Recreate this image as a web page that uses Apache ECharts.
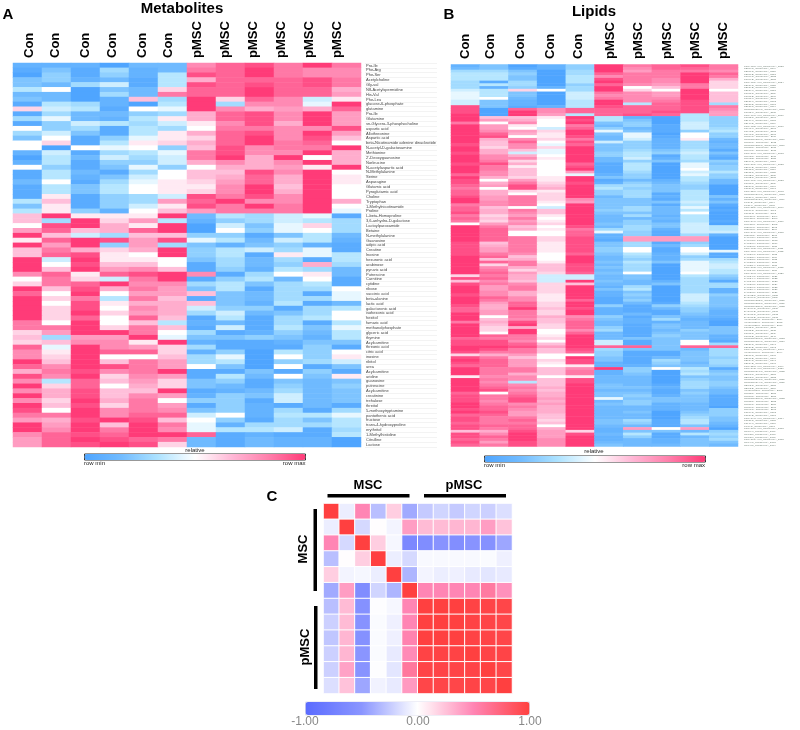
<!DOCTYPE html>
<html><head><meta charset="utf-8">
<style>html,body{margin:0;padding:0;background:#fff}#c{width:800px;height:730px}</style>
<script src="https://cdn.jsdelivr.net/npm/echarts@6/dist/echarts.min.js"></script>
</head><body><div id="c"></div>
<script>
const metaboliteSamples = ['Con','Con','Con','Con','Con','Con','pMSC','pMSC','pMSC','pMSC','pMSC','pMSC'];
const lipidSamples = ['Con','Con','Con','Con','Con','pMSC','pMSC','pMSC','pMSC','pMSC'];
const corrSamples = ['M1','M2','M3','M4','M5','M6','P1','P2','P3','P4','P5','P6'];
const metaboliteNames = ['Pro-Ile','Phe-Arg','Phe-Ser','Acetylcholine','Gly-val','N8-Acetylspermidine','His-Val','Phe-Leu','glucose-6-phosphate','glutamine','Pro-Ile','Glutamine','sn-Glycero-3-phosphocholine','aspartic acid','Allothreonine','Aspartic acid','beta-Nicotinamide adenine dinucleotide','N-acetyl-D-galactosamine','Methionine',"2'-Deoxyguanosine",'Norleucine','N-acetylaspartic acid','N-Methylalanine','Serine','Asparagine','Glutamic acid','Pyroglutamic acid','Choline','Tryptophan','1-Methylnicotinamide','Proline','L-beta-Homoproline','3,6-anhydro-D-galactose','Lactoylparoxamide','Betaine','N-methylalanine','Guanosine','adipic acid','Creatine','Inosine','hexuronic acid','arabinose','pyruvic acid','Putrescine','Carnitine','cytidine','ribose','succinic acid','beta-alanine','lactic acid','galacturonic acid','isohexonic acid','hexitol','fumaric acid','methanolphosphate','glyceric acid','thymine','Acylcarnitine','threonic acid','citric acid','inosine','ribitol','urea','Acylcarnitine','uridine','guanosine','putrescine','Acylcarnitine','creatinine','trehalose','threitol','5-methoxytryptamine','pantothenic acid','fructose','trans-4-hydroxyproline','erythritol','1-Methylhistidine','Citrulline','Lactose'];
const metaboliteValues = [
[-8,-8,-8,-10,-7,-7,6,8,9,7,10,7],[-9,-6,-9,-4,-8,-7,7,8,10,7,6,6],[-10,-5,-9,-5,-8,-3,9,8,10,7,6,6],[-6,-5,-8,-7,-9,-3,4,8,8,8,9,7],
[-6,-7,-4,-2,-9,-3,9,8,9,8,9,7],[-3,0,-10,-6,-7,2,8,8,10,8,8,4],[-7,-7,-10,-4,-7,7,8,8,10,8,8,5],[-6,-7,-10,-8,3,-4,10,2,8,6,-2,1],
[-9,-3,-4,-8,-10,-3,10,-4,6,6,-1,10],[2,-2,-3,-9,0,-1,10,6,4,5,4,8],[-9,-4,-7,-7,-5,-4,4,8,9,6,10,5],[-4,-1,-7,-8,-3,1,4,8,9,6,10,5],
[-9,-5,-2,-3,-4,-2,1,6,9,4,10,5],[0,-5,-4,-9,-3,-4,0,7,7,6,6,9],[-4,-2,-6,-9,-3,1,4,8,9,6,10,5],[-6,0,-9,-5,-1,1,2,8,10,6,9,3],
[0,2,-9,-3,1,2,4,8,10,7,8,0],[0,-10,0,-1,0,-5,3,9,6,7,7,10],[-8,-2,-9,-4,-3,-1,7,9,6,6,10,4],[-10,-3,-7,-2,-4,-2,7,10,4,10,0,4],
[-8,-3,-9,-5,-5,-2,4,6,4,6,10,4],[0,-5,-9,-6,-1,-5,0,4,4,5,1,10],[-9,-3,-7,-9,-4,0,3,3,9,6,10,0],[-9,-3,-8,-6,-2,0,3,4,8,4,10,1],
[-7,0,-9,-4,-1,1,2,5,8,4,10,1],[-9,-3,-6,-3,0,1,1,6,10,3,10,0],[-9,-3,-6,-3,0,1,2,6,10,4,10,0],[-9,1,-9,-5,-4,-2,9,7,9,6,10,0],
[-3,3,-9,-5,-4,5,8,10,6,6,10,4],[-6,1,-9,-5,-2,1,9,7,10,7,10,0],[-3,1,-5,-8,0,3,5,7,7,7,10,-1],[3,10,1,1,1,10,-7,-3,-4,-2,-1,-9],
[3,-4,10,2,5,-3,-8,-5,-4,-2,-3,-4],[0,9,10,4,1,10,-10,-2,-6,-1,2,-4],[5,8,3,4,8,10,-10,0,-5,-1,0,-4],[10,3,-2,-4,3,3,-5,-5,-9,-6,-3,-7],
[1,8,10,9,5,9,-1,-3,-7,-2,-3,-8],[10,5,10,-5,5,-4,-6,-8,-6,-5,-8,-9],[3,7,4,2,4,10,-5,-3,-2,-4,-1,-9],[3,8,9,1,0,10,-5,-3,-9,1,-1,-3],
[10,-2,10,1,1,0,-6,-4,-7,-4,-9,-3],[10,0,9,3,3,0,-9,-4,-7,-5,4,-4],[10,3,10,5,6,3,-9,-5,-8,-3,-4,-7],[6,8,1,8,9,10,6,-9,-4,0,1,-7],
[0,7,2,-2,7,10,-9,-5,-3,-7,0,-9],[2,7,8,10,6,6,-4,-3,-6,-4,-3,-9],[10,3,9,4,7,5,-6,-3,-9,-4,-4,0],[8,0,10,0,5,5,3,-6,-7,-4,-9,-1],
[10,2,7,-3,7,3,-9,-6,-7,-4,-4,-1],[10,0,9,1,4,4,3,-6,-8,-3,-9,-7],[10,2,9,0,6,4,-2,-5,-5,-9,-4,-3],[10,2,10,2,5,4,-4,-2,-7,-6,-4,0],
[10,2,8,0,8,3,-9,-3,-9,-4,-3,0],[7,0,10,0,3,-3,-8,-7,-9,-4,-9,-3],[7,7,10,2,7,3,-9,-2,-9,-3,-6,-1],[2,5,10,10,7,0,-4,-9,-8,-5,-7,-3],
[3,-4,5,5,10,-1,-6,-6,-5,-6,-8,-3],[2,3,6,6,1,10,-8,-9,-9,-8,-6,-6],[8,-1,10,6,5,2,-4,-9,-9,-9,-5,-9],[6,1,10,8,8,2,-8,-5,-10,-3,-5,0],
[6,2,10,0,0,3,-4,-1,-10,0,-5,1],[10,3,10,3,7,5,-4,-3,-10,-5,-4,-2],[8,6,10,9,7,5,0,-6,-10,0,-9,-6],[4,7,9,6,7,10,-9,-9,-6,-9,-5,-9],
[9,6,10,2,6,5,-9,-3,-7,0,-6,1],[6,-3,8,3,5,2,-6,-5,-9,-6,-7,-6],[10,2,8,0,4,2,-6,-7,-9,-5,-7,-5],[6,4,9,3,3,10,-9,-8,-7,-4,-7,-6],
[10,4,9,3,6,5,-8,-5,-6,-2,-7,-6],[6,2,10,4,7,0,-5,-5,-9,-2,-7,-6],[10,3,9,2,7,5,-9,-5,-8,-9,-7,-9],[9,0,10,6,7,6,-6,-5,-8,-4,-9,-4],
[7,7,10,6,8,8,-2,0,-8,-3,-3,-1],[5,4,9,10,9,3,0,-5,-9,-4,-6,-3],[10,5,10,3,10,7,-1,-8,-4,-4,-4,-3],[10,6,10,7,10,6,-1,-3,-3,-2,-9,-4],
[6,8,9,8,10,10,8,-9,-8,-9,-9,-3],[5,8,10,9,8,7,-7,-9,-7,-8,-8,-10],[5,8,9,10,9,2,-7,-9,-7,-8,-8,-10]];
const lipidValues = [
[-8,-6,-10,-8,-5,10,7,8,9,7],[-7,-6,-9,-8,-5,10,6,8,8,7],[-4,-4,-6,-10,-4,10,5,7,7,6],[-3,-3,-5,-10,-4,8,7,7,10,8],
[-3,-3,-6,-10,-3,6,7,7,10,7],[-3,-3,-6,-10,-3,9,7,6,10,4],[-4,-9,-4,-10,-3,10,7,6,10,2],[-4,-3,-4,-10,-5,8,6,5,7,2],
[-4,-8,-5,-8,-4,10,0,3,7,2],[-2,-3,2,0,-4,10,2,0,10,0],[-1,-3,-6,-10,-2,7,6,5,10,3],[-1,-3,-6,-10,-2,6,6,5,10,3],
[-1,0,-7,-10,-2,7,6,6,10,3],[-2,-6,-8,-10,-3,10,6,7,9,3],[-2,-6,-8,-10,-3,10,-3,8,9,-4],[9,-6,-9,-8,-3,9,8,8,9,7],
[9,-10,8,6,8,8,8,8,9,6],[9,-10,10,6,8,8,8,9,9,5],[10,-10,10,5,-3,8,9,8,-3,5],[10,3,3,1,10,-3,-8,-10,-3,-5],
[10,5,4,0,9,-3,-6,-10,-3,-5],[7,0,6,0,10,-6,-5,-10,-2,-5],[10,5,1,0,7,-7,-5,-9,-2,-5],[10,5,0,-2,8,-5,-7,-9,-2,-4],
[10,6,5,2,10,-1,-6,-9,-5,-3],[10,8,4,1,10,-6,-1,-10,0,-5],[10,9,0,1,9,-7,-1,-9,0,-5],[10,4,6,2,7,-7,-2,-8,1,-7],
[10,3,8,0,9,-2,-5,-8,-4,-8],[9,3,6,-1,8,-6,-5,-8,-4,-7],[10,2,6,2,10,-6,-5,-8,-4,-7],[10,4,3,-1,10,-6,-4,-6,-3,-9],
[9,4,-2,-1,10,-5,-3,-5,-2,-6],[10,6,4,0,10,-5,-3,-9,-3,-8],[10,6,6,1,10,-7,-2,-8,-3,-9],[10,7,2,0,10,-7,-5,-6,-4,-5],
[9,9,4,0,8,-9,-3,-10,-1,-6],[10,7,1,0,9,-9,-3,-10,-1,-5],[10,7,3,0,10,-9,-3,-10,0,-5],[10,6,3,0,5,-9,-4,-10,-2,-3],
[8,6,3,0,-1,-8,-5,-10,-1,-5],[10,4,2,1,10,-6,-5,-10,-3,-5],[9,0,5,1,10,-9,-7,-8,-3,-7],[9,4,7,2,9,-8,-5,-7,-4,-7],
[8,5,9,3,10,-4,-4,-6,-5,-10],[7,0,9,4,10,-3,-5,-6,-5,-10],[8,4,2,1,10,-5,-4,-6,-3,-10],[8,4,0,2,10,-5,-4,-9,-3,-10],
[9,5,7,2,10,-7,-4,-8,-3,-6],[10,5,7,2,6,-6,-6,-9,-3,-8],[10,6,7,1,5,-6,-6,-6,-2,-6],[7,6,7,0,10,-6,-6,-9,-3,-9],
[8,3,0,-2,10,-6,-4,-7,-1,-10],[8,4,7,3,10,-5,-4,-7,-3,-9],[9,4,6,3,10,-6,-6,-7,0,-10],[7,2,5,1,10,-7,-4,-8,-3,-10],
[8,3,7,0,10,-7,-7,-7,-3,-10],[7,2,5,1,10,-7,-5,-8,-3,-9],[0,5,6,2,10,-6,-5,-6,-2,-10],[10,7,3,0,9,-7,-4,-6,-2,-3],
[10,8,4,1,7,-4,-4,-8,-2,-3],[10,8,0,0,8,-1,-5,-9,-2,-2],[10,8,0,0,8,-8,-5,-9,-4,-8],[10,8,7,2,9,-8,5,5,5,-10],
[10,8,7,2,9,-9,5,5,5,-10],[9,3,7,1,9,-6,-4,-9,-5,-10],[9,4,7,1,9,-6,-4,-7,-4,-10],[9,5,7,1,9,-5,0,-9,0,-10],
[9,5,7,1,9,-5,0,-9,0,-1],[9,7,6,0,8,-6,-3,-8,-2,-9],[10,8,3,0,10,-7,-4,-8,-5,-9],[10,3,4,0,10,-7,-5,-8,-4,-4],
[10,8,7,1,10,-6,-3,-6,-1,-3],[10,2,7,3,9,-7,-4,-10,-1,-2],[10,6,4,3,9,-6,-4,-10,-1,-2],[10,7,2,3,9,-7,-4,-10,-1,-3],
[10,8,5,2,8,-6,0,-10,0,-3],[2,7,4,-2,-2,-7,-6,-10,-3,-5],[9,8,4,-2,-2,-7,-6,-10,-4,-6],[3,6,3,-2,10,-6,-7,-8,-4,-9],
[9,7,6,2,3,-7,-7,-6,-4,-4],[10,5,7,2,10,-8,-4,-10,-4,-4],[10,5,7,2,10,-6,-3,-10,-4,-8],[10,6,4,2,10,-8,-6,-10,-4,-8],
[9,6,4,1,10,-8,-5,-10,-2,-5],[10,8,6,1,10,-9,-6,-10,-2,-6],[10,7,6,1,8,-9,-5,-10,-2,-6],[10,5,8,2,10,-9,-7,-9,-3,-6],
[9,4,8,2,10,-5,-9,-5,-4,-6],[8,4,10,3,9,-8,-9,-7,-5,-7],[8,5,7,2,10,-8,-9,-9,-5,-8],[10,5,7,2,10,-8,-7,-9,-6,-8],
[10,0,7,4,6,-5,-9,-6,-7,-8],[10,3,6,3,7,-6,-8,-4,-8,-9],[7,4,9,3,8,-7,-8,-8,-7,-10],[10,3,10,2,8,-7,-9,-6,-7,-10],
[10,2,4,2,8,-5,-9,-6,-7,-6],[10,2,10,0,6,-4,-9,-7,-5,-6],[10,0,10,0,8,-7,-9,-6,-6,-6],[10,8,7,1,10,-7,-9,-5,-6,-8],
[8,7,7,2,10,-7,-6,-6,-6,-8],[9,9,6,0,10,-2,-9,-6,0,-9],[9,9,8,3,10,-2,-9,-6,0,-4],[10,10,9,5,10,8,8,-6,8,8],
[10,9,7,3,9,-4,-6,-6,-7,-4],[9,7,7,3,8,-5,-9,-9,-6,-4],[2,4,5,0,0,-5,-9,-9,-6,-4],[9,7,3,0,10,-6,-9,-7,-6,-5],
[10,8,5,2,9,-6,-9,-4,-6,-4],[9,8,5,1,9,-8,-9,-5,-7,-4],[8,8,5,0,1,-8,-8,-6,-6,-5],[10,7,7,3,6,10,-5,0,-3,-9],
[10,7,7,3,7,-8,-5,-10,-4,-6],[10,7,4,3,7,-8,-6,-10,-3,-5],[1,6,6,0,1,-7,-7,-10,-6,-6],[10,7,6,3,9,-7,-7,-10,-5,-6],
[10,6,-3,3,9,-7,-7,-10,-4,-5],[10,7,6,3,10,-6,-7,-9,-4,-5],[10,8,7,4,10,-6,-6,-8,-4,-6],[10,9,6,3,10,-7,-7,-9,-6,-7],
[8,0,7,4,10,-6,-6,-9,-5,-7],[9,7,8,4,10,-6,-5,-8,-6,-9],[9,7,9,5,10,-1,-6,-6,-6,-9],[9,6,9,4,10,-7,-5,-6,-6,-9],
[10,7,6,5,10,-6,-5,-8,-7,-9],[10,8,7,4,10,-7,-7,-8,-7,-10],[9,8,6,4,10,-7,-7,-8,-7,-5],[10,9,5,4,10,-7,-6,-10,-6,-5],
[8,8,5,3,10,-7,-7,-10,-5,-5],[9,7,7,3,10,-7,-7,-10,-4,-6],[9,7,8,2,10,-6,-4,-9,-3,-6],[8,7,7,3,10,-6,-5,-9,-3,-7],
[9,8,8,0,10,-7,-7,-9,-6,-8],[9,7,8,4,10,-8,5,0,5,-10],[3,4,9,5,2,-8,-6,-6,-7,-5],[9,6,10,5,9,-7,-3,-9,-3,-4],
[9,8,10,5,10,-8,-5,-9,-7,-5],[8,7,10,6,10,-8,-7,-8,-6,-4],[9,5,9,6,10,-7,-7,-8,-6,-6],[8,7,9,6,10,-6,-7,-7,-6,-7]];
const lipidNames = ['PC(p-18:0)_m/z_CoenzymeA_2058','PE(16:0)_CoenzymeA_2049','PE(18:1)_CoenzymeA_2050','PE(18:2)_CoenzymeA_2051','PC(34:1)_CoenzymeA_2052','PC(34:2)_CoenzymeA_2053','PC(p-18:1)_m/z_CoenzymeA_2054','PE(36:1)_CoenzymeA_2055','PE(36:2)_CoenzymeA_2056','PE(36:4)_CoenzymeA_2057','PC(36:1)_CoenzymeA_2059','PC(36:2)_CoenzymeA_2060','PC(36:4)_CoenzymeA_2061','PE(38:4)_CoenzymeA_2062','PE(38:5)_CoenzymeA_2063','PE(38:6)_CoenzymeA_2064','Ceramide(d34:1)_CoenzymeA_2715','PC(38:4)_CoenzymeA_2065','PC(p-16:0)_m/z_CoenzymeA_2066','PC(38:6)_CoenzymeA_2067','PE(40:4)_CoenzymeA_2068','PE(40:5)_CoenzymeA_2069','PC(p-18:2)_m/z_CoenzymeA_2070','PC(40:4)_CoenzymeA_2071','PC(40:5)_CoenzymeA_2072','PC(40:6)_CoenzymeA_2073','SM(34:1)_CoenzymeA_2074','Ceramide(d36:1)_CoenzymeA_2716','SM(36:1)_CoenzymeA_2075','Ceramide(d38:1)_CoenzymeA_2717','SM(38:1)_CoenzymeA_2076','SM(40:1)_CoenzymeA_2077','PC(p-20:0)_m/z_CoenzymeA_2078','SM(42:1)_CoenzymeA_2079','SM(42:2)_CoenzymeA_2080','PE(34:1)_CoenzymeA_2081','PC(p-20:1)_m/z_CoenzymeA_2082','PE(34:2)_CoenzymeA_2083','PE(32:0)_CoenzymeA_2084','PE(32:1)_CoenzymeA_2085','PC(32:0)_CoenzymeA_2086','PC(32:1)_CoenzymeA_2087','PC(p-16:1)_m/z_CoenzymeA_2088','PC(30:0)_CoenzymeA_2089','PE(30:0)_CoenzymeA_2090','PS(36:1)_CoenzymeA_2091','PC(p-22:0)_m/z_CoenzymeA_2092','Ceramide(d40:1)_CoenzymeA_2718','PS(38:4)_CoenzymeA_2093','Ceramide(d42:1)_CoenzymeA_2719','PI(36:2)_CoenzymeA_2094','PI(38:4)_CoenzymeA_2095','PC(p-22:1)_m/z_CoenzymeA_2096','PG(34:1)_CoenzymeA_2097','PG(36:2)_CoenzymeA_2098','LPC(16:0)_CoenzymeA_2099','LPC(18:0)_CoenzymeA_2100','PC(p-24:0)_m/z_CoenzymeA_2101','LPC(18:1)_CoenzymeA_2102','LPE(16:0)_CoenzymeA_2103','LPE(18:0)_CoenzymeA_2104','PC(p-24:1)_m/z_CoenzymeA_2105','LPE(18:1)_CoenzymeA_2106','TAG(48:1)_CoenzymeA_2107','TAG(48:2)_CoenzymeA_2108','TAG(50:1)_CoenzymeA_2109','TAG(50:2)_CoenzymeA_2110','PC(p-16:2)_m/z_CoenzymeA_2111','PC(p-18:3)_m/z_CoenzymeA_2112','TAG(50:3)_CoenzymeA_2113','TAG(52:1)_CoenzymeA_2114','TAG(52:2)_CoenzymeA_2115','TAG(52:3)_CoenzymeA_2116','TAG(52:4)_CoenzymeA_2117','PC(p-20:2)_m/z_CoenzymeA_2118','TAG(54:2)_CoenzymeA_2119','PC(p-20:3)_m/z_CoenzymeA_2120','TAG(54:3)_CoenzymeA_2121','TAG(54:4)_CoenzymeA_2122','TAG(54:5)_CoenzymeA_2123','TAG(56:2)_CoenzymeA_2124','TAG(56:3)_CoenzymeA_2125','TAG(56:4)_CoenzymeA_2126','TAG(56:5)_CoenzymeA_2127','DAG(32:0)_CoenzymeA_2128','DAG(34:0)_CoenzymeA_2129','Ceramide(d32:1)_CoenzymeA_2720','Ceramide(d33:1)_CoenzymeA_2721','Ceramide(d35:1)_CoenzymeA_2722','DAG(34:1)_CoenzymeA_2130','DAG(34:2)_CoenzymeA_2131','DAG(36:1)_CoenzymeA_2132','DAG(36:2)_CoenzymeA_2133','HexCer(d34:1)_CoenzymeA_2134','HexCer(d36:1)_CoenzymeA_2135','HexCer(d38:1)_CoenzymeA_2136','PC(35:1)_CoenzymeA_2137','PC(35:2)_CoenzymeA_2138','PC(37:1)_CoenzymeA_2139','PC(37:2)_CoenzymeA_2140','Ceramide(d37:1)_CoenzymeA_2723','Ceramide(d39:1)_CoenzymeA_2724','PE(35:1)_CoenzymeA_2141','PE(35:2)_CoenzymeA_2142','PC(p-22:2)_m/z_CoenzymeA_2143','HexCer(d40:1)_CoenzymeA_2144','PE(37:1)_CoenzymeA_2145','PE(37:2)_CoenzymeA_2146','PE(39:1)_CoenzymeA_2147','PE(39:2)_CoenzymeA_2148','PC(p-22:3)_m/z_CoenzymeA_2149','PC(p-24:2)_m/z_CoenzymeA_2150','Ceramide(d41:1)_CoenzymeA_2725','CE(16:0)_CoenzymeA_2151','CE(18:0)_CoenzymeA_2152','Ceramide(d43:1)_CoenzymeA_2726','Ceramide(d44:1)_CoenzymeA_2727','CE(18:1)_CoenzymeA_2153','CE(18:2)_CoenzymeA_2154','HexCer(d42:1)_CoenzymeA_2155','SM(32:1)_CoenzymeA_2156','SM(33:1)_CoenzymeA_2157','Ceramide(d30:1)_CoenzymeA_2728','SM(35:1)_CoenzymeA_2158','SM(37:1)_CoenzymeA_2159','SM(39:1)_CoenzymeA_2160','SM(41:1)_CoenzymeA_2161','PS(34:1)_CoenzymeA_2162','PS(36:2)_CoenzymeA_2163','PC(p-24:3)_m/z_CoenzymeA_2164','PS(38:1)_CoenzymeA_2165','PS(40:4)_CoenzymeA_2166','PI(34:1)_CoenzymeA_2167','PC(p-26:0)_m/z_CoenzymeA_2168','CL(70:4)_CoenzymeA_2169','CL(72:5)_CoenzymeA_2170','CL(72:6)_CoenzymeA_2171','PC(p-26:1)_m/z_CoenzymeA_2172','CL(74:7)_CoenzymeA_2173','CL(74:8)_CoenzymeA_2174'];
const corrValues = [
[1,-.08,.5,-.3,.2,-.4,-.25,-.2,-.25,-.2,-.22,-.15],
[-.08,1,-.18,.01,-.05,.4,.28,.28,.3,.3,.4,.25],
[.5,-.18,1,.2,-.04,-.65,-.6,-.52,-.58,-.52,-.55,-.42],
[-.3,.01,.2,1,-.08,-.18,-.03,-.03,-.03,-.03,-.02,-.07],
[.2,-.05,-.04,-.08,1,-.35,-.05,-.08,-.07,-.1,-.12,-.1],
[-.4,.4,-.6,-.2,-.35,1,.5,.5,.5,.5,.58,.45],
[-.3,.28,-.55,-.01,-.04,.5,1,1,1,.98,.97,.96],
[-.22,.28,-.53,-.02,-.07,.5,1,1,1,.98,.97,.96],
[-.27,.3,-.55,-.02,-.07,.52,1,1,1,.98,.97,.96],
[-.22,.3,-.5,-.02,-.1,.48,.98,.98,.98,1,.97,.97],
[-.22,.38,-.52,-.01,-.12,.6,.97,.97,.97,.97,1,.96],
[-.15,.25,-.42,-.06,-.1,.42,.96,.96,.96,.97,.96,1]];
const heatColors = ['#4fa5ff','#72bcff','#aee3ff','#ffffff','#ffb8d6','#ff7fab','#ff3b78'];
const corrColors = ['#5a6bff','#8a95ff','#ffffff','#ff85b4','#ff4040'];
const relMin = -10, relMax = 10;
// layout only: hand-placed column captions of the original figure
const metaboliteCaptionX = [29,55,85,112,142,168,197,225,253,281,309,337];
const lipidCaptionX = [465,490,520,550,578,610,638,667,695,723];

const cells = rows => rows.flatMap((r, y) => r.map((v, x) => [x, y, v]));
const hiddenX = i => ({type:'category', gridIndex:i, show:false, data:['']});
const F = 'Liberation Sans, Arial, sans-serif';
const txt = (text, x, y, o={}) => ({type:'text', x, y, rotation:o.rot||0, silent:true, style:{text, fontFamily:F, fontSize:o.size||6, fontWeight:o.weight||'normal', fill:o.fill||'#222', align:o.align||'center', verticalAlign:'middle'}});
const bar = (x, y, width, height) => ({type:'rect', silent:true, shape:{x, y, width, height}, style:{fill:'#000'}});
const heatSeries = (xi, data, border) => ({type:'heatmap', xAxisIndex:xi, yAxisIndex:xi, data, progressive:0, animation:false, emphasis:{disabled:true},
  itemStyle: border ? {borderColor:'#fff', borderWidth:1} : {borderWidth:0}});
const vm = (seriesIndex, min, max, color, left, top, len, thick, bordered) => ({type:'continuous', seriesIndex, min, max, calculable:false, showLabel:false, hoverLink:false, orient:'horizontal', left, top, itemWidth:thick, itemHeight:len, padding:0, text:null, borderColor:bordered?'#333':'#dde', borderWidth:1, inRange:{color}});
const caption = (names, xs, y) => names.map((n, i) => txt(n, xs[i], y, {size:13, weight:'bold', fill:'#000', align:'left', rot:Math.PI/2}));

const chart = echarts.init(document.getElementById('c'), null, {renderer:'canvas'});
chart.setOption({
  animation:false, backgroundColor:'#fff', textStyle:{fontFamily:F}, tooltip:{show:false},
  grid:[
    {left:13, top:63, width:348, height:384},
    {left:365, top:63, width:72, height:384},
    {left:451, top:64.5, width:287, height:382},
    {left:744, top:64.5, width:54, height:382},
    {left:323.5, top:503.5, width:188.5, height:190}
  ],
  xAxis:[
    {type:'category', gridIndex:0, show:false, data:metaboliteSamples},
    hiddenX(1),
    {type:'category', gridIndex:2, show:false, data:lipidSamples},
    hiddenX(3),
    {type:'category', gridIndex:4, show:false, data:corrSamples}
  ],
  yAxis:[
    {type:'category', gridIndex:0, show:false, inverse:true, data:metaboliteNames},
    {type:'category', gridIndex:1, inverse:true, data:metaboliteNames, axisLine:{show:false}, axisTick:{show:false}, splitLine:{show:true, interval:0, lineStyle:{color:'#f3f3f3', width:1}}, axisLabel:{inside:true, interval:0, margin:1, fontSize:4, color:'#444'}},
    {type:'category', gridIndex:2, show:false, inverse:true, data:lipidNames},
    {type:'category', gridIndex:3, inverse:true, data:lipidNames, axisLine:{show:false}, axisTick:{show:false}, splitLine:{show:false}, axisLabel:{inside:true, interval:0, margin:0, fontSize:2.5, color:'#6a7a70'}},
    {type:'category', gridIndex:4, show:false, inverse:true, data:corrSamples}
  ],
  visualMap:[
    vm(0, relMin, relMax, heatColors, 84, 453.5, 221, 6, true),
    vm(1, relMin, relMax, heatColors, 484, 455.5, 221, 6, true),
    vm(2, -1, 1, corrColors, 305, 701.5, 224, 13, false)
  ],
  series:[
    heatSeries(0, cells(metaboliteValues)),
    heatSeries(2, cells(lipidValues)),
    heatSeries(4, cells(corrValues), true)
  ],
  graphic:[
    txt('Metabolites',182,9,{size:15,weight:'bold',fill:'#000'}),
    txt('Lipids',594,12,{size:15,weight:'bold',fill:'#000'}),
    txt('A',8,15,{size:15,weight:'bold',fill:'#000'}),
    txt('B',449,15,{size:15,weight:'bold',fill:'#000'}),
    txt('C',272,497,{size:15,weight:'bold',fill:'#000'}),
    ...caption(metaboliteSamples, metaboliteCaptionX, 58),
    ...caption(lipidSamples, lipidCaptionX, 59),
    txt('relative',195,450),txt('row min',84,463.5,{align:'left'}),txt('row max',305.5,463.5,{align:'right'}),
    txt('relative',594,451.5),txt('row min',484,465.5,{align:'left'}),txt('row max',705,465.5,{align:'right'}),
    txt('MSC',368,485,{size:13,weight:'bold',fill:'#000'}),
    txt('pMSC',464,485,{size:13,weight:'bold',fill:'#000'}),
    txt('MSC',303.5,549,{size:13,weight:'bold',fill:'#000',rot:Math.PI/2}),
    txt('pMSC',305,647,{size:13,weight:'bold',fill:'#000',rot:Math.PI/2}),
    bar(327.5,494,82,3.5),bar(424,494,82,3.5),bar(313.5,509,3.5,82),bar(314,606,3.5,83),
    txt('-1.00',305,722,{size:12,fill:'#888'}),txt('0.00',418,722,{size:12,fill:'#888'}),txt('1.00',530,722,{size:12,fill:'#888'})
  ]
});
</script></body></html>
